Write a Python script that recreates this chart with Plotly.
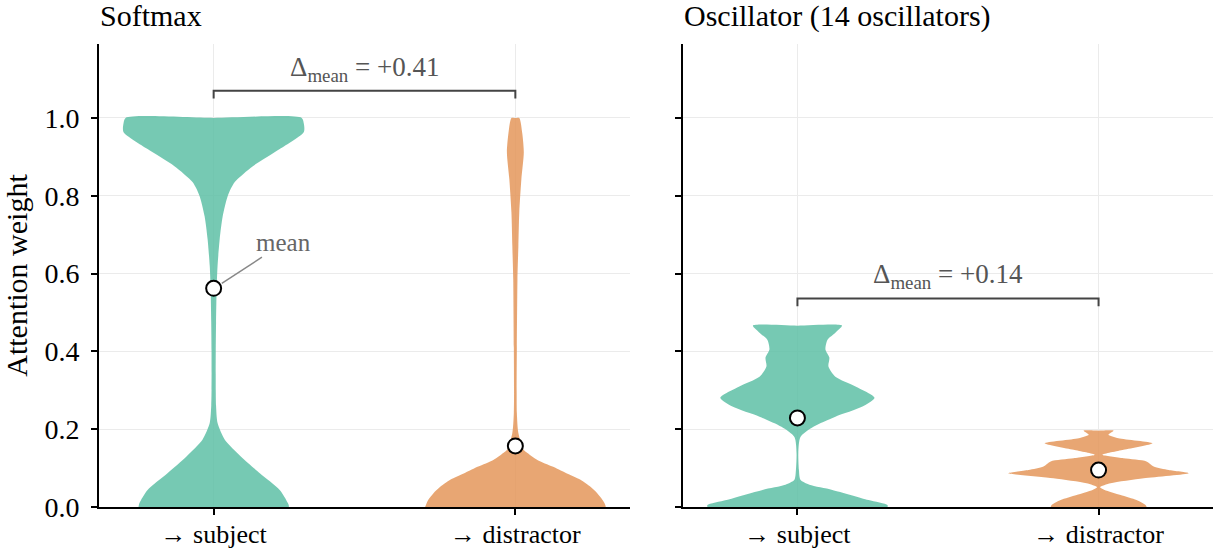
import plotly.graph_objects as go

# ---------------- data ----------------
categories = ["→ subject", "→ distractor"]
cat_pos = [0, 1]
panel_titles = ["Softmax", "Oscillator (14 oscillators)"]

# violin outlines: attention-weight levels and half-widths (x units)
soft_subj_y = [0, 0.01, 0.044, 0.087, 0.13, 0.173, 0.216, 0.26, 0.30, 0.40, 0.474,
               0.56, 0.62, 0.688, 0.747, 0.80, 0.835, 0.876, 0.92, 0.964, 0.985, 1.0]
soft_subj_w = [0.249, 0.246, 0.219, 0.153, 0.090, 0.037, 0.013, 0.008, 0.007, 0.007, 0.008,
               0.010, 0.013, 0.020, 0.030, 0.047, 0.070, 0.130, 0.219, 0.299, 0.299, 0.292]

soft_dist_y = [0, 0.018, 0.035, 0.052, 0.07, 0.088, 0.104, 0.121, 0.139, 0.147, 0.19,
               0.242, 0.41, 0.585, 0.67, 0.757, 0.843, 0.912, 0.96, 1.0]
soft_dist_w = [0.299, 0.289, 0.272, 0.249, 0.216, 0.166, 0.123, 0.073, 0.040, 0.027, 0.010,
               0.005, 0.005, 0.007, 0.010, 0.013, 0.020, 0.028, 0.023, 0.013]

osc_subj_y = [0, 0.005, 0.018, 0.044, 0.057, 0.07, 0.095, 0.139, 0.18, 0.206, 0.232,
              0.258, 0.281, 0.31, 0.335, 0.361, 0.384, 0.405, 0.43, 0.448, 0.466]
osc_subj_w = [0.299, 0.299, 0.236, 0.116, 0.040, 0.010, 0.005, 0.003, 0.010, 0.053, 0.126,
              0.216, 0.256, 0.193, 0.126, 0.103, 0.106, 0.093, 0.100, 0.126, 0.148]

osc_dist_y = [0, 0.005, 0.018, 0.031, 0.044, 0.051, 0.061, 0.074, 0.087, 0.095, 0.104,
              0.117, 0.125, 0.134, 0.147, 0.164, 0.177, 0.186, 0.196]
osc_dist_w = [0.159, 0.156, 0.126, 0.073, 0.020, 0.005, 0.040, 0.150, 0.299, 0.233, 0.183,
              0.159, 0.083, 0.013, 0.083, 0.179, 0.066, 0.033, 0.050]

softmax_means = [0.562, 0.157]
osc_means = [0.229, 0.095]
delta_labels = ["Δ<sub>mean</sub> = +0.41", "Δ<sub>mean</sub> = +0.14"]

# ---------------- style ----------------
GREEN = "rgba(94,192,166,0.85)"
ORANGE = "rgba(228,150,90,0.85)"
FONT = "Liberation Serif, Times New Roman, Times, serif"
GRID = "#ebebeb"

fig = go.Figure()

panels = [
    ("x", "y", [(soft_subj_y, soft_subj_w), (soft_dist_y, soft_dist_w)], softmax_means),
    ("x2", "y2", [(osc_subj_y, osc_subj_w), (osc_dist_y, osc_dist_w)], osc_means),
]
colors = [GREEN, ORANGE]

for pi, (xa, ya, violins, means) in enumerate(panels):
    for ci, (vy, vw) in enumerate(violins):
        c = cat_pos[ci]
        # outline: up the left side, across the flat top (through the centre), down the right
        xs = [c - w for w in vw] + [c] + [c + w for w in reversed(vw)] + [c]
        ys = list(vy) + [vy[-1]] + list(reversed(vy)) + [vy[0]]
        fig.add_trace(go.Scatter(x=xs, y=ys, xaxis=xa, yaxis=ya, mode="lines",
                                 fill="toself", fillcolor=colors[ci],
                                 line=dict(width=0, color=colors[ci], shape="spline",
                                           smoothing=0.7),
                                 hoverinfo="skip", showlegend=False))
    # bracket
    top = max(max(v[0]) for v in violins) + 0.07
    drop = 0.02
    fig.add_trace(go.Scatter(x=[cat_pos[0], cat_pos[0], cat_pos[1], cat_pos[1]],
                             y=[top - drop, top, top, top - drop],
                             xaxis=xa, yaxis=ya, mode="lines",
                             line=dict(color="#444444", width=2),
                             hoverinfo="skip", showlegend=False))
    fig.add_annotation(x=(cat_pos[0] + cat_pos[1]) / 2, y=top + 0.008, xref=xa, yref=ya,
                       text=delta_labels[pi], showarrow=False, yanchor="bottom",
                       font=dict(family=FONT, size=27, color="#555555"))
    # means
    fig.add_trace(go.Scatter(x=cat_pos, y=means, xaxis=xa, yaxis=ya, mode="markers",
                             marker=dict(size=15, color="white",
                                         line=dict(color="black", width=2)),
                             hoverinfo="skip", showlegend=False))

# "mean" callout on softmax subject
fig.add_trace(go.Scatter(x=[0.027, 0.16], y=[0.575, 0.642], xaxis="x", yaxis="y",
                         mode="lines", line=dict(color="#888888", width=1.5),
                         hoverinfo="skip", showlegend=False))
fig.add_annotation(x=0.135, y=0.64, xref="x", yref="y", text="mean", showarrow=False,
                   xanchor="left", yanchor="bottom",
                   font=dict(family=FONT, size=25, color="#666666"))

# panel titles
for xa, t in zip(["x", "x2"], panel_titles):
    fig.add_annotation(x=-0.002, xref=f"{xa} domain", y=1.005, yref="paper", text=t,
                       showarrow=False, xanchor="left", yanchor="top",
                       font=dict(family=FONT, size=30, color="black"))

axis_common = dict(showline=True, linecolor="black", linewidth=1.6,
                   ticks="outside", ticklen=6, tickwidth=1.6, tickcolor="black",
                   showgrid=True, gridcolor=GRID, gridwidth=1, zeroline=False,
                   automargin=False,
                   tickfont=dict(family=FONT, size=28, color="black"))
xtickfont = dict(family=FONT, size=26, color="black")

ydom = [45 / 552, 508 / 552]
fig.update_layout(
    width=1225, height=552, margin=dict(l=0, r=0, t=0, b=0),
    plot_bgcolor="white", paper_bgcolor="white",
    font=dict(family=FONT),
    xaxis=dict(domain=[99 / 1225, 630 / 1225], range=[-0.38, 1.38],
               tickvals=cat_pos, ticktext=categories, anchor="y", **axis_common),
    xaxis2=dict(domain=[683 / 1225, 1213 / 1225], range=[-0.38, 1.38],
                tickvals=cat_pos, ticktext=categories, anchor="y2", **axis_common),
    yaxis=dict(domain=ydom, range=[0, 1.19], tickvals=[0, 0.2, 0.4, 0.6, 0.8, 1.0],
               tickformat=".1f", anchor="x", ticklabelstandoff=6,
               title=dict(text="Attention weight", font=dict(family=FONT, size=30, color="black"),
                          standoff=14),
               **axis_common),
    yaxis2=dict(domain=ydom, range=[0, 1.19], tickvals=[0, 0.2, 0.4, 0.6, 0.8, 1.0],
                showticklabels=False, anchor="x2", **axis_common),
)
fig.update_xaxes(tickfont=xtickfont, ticklabelstandoff=-3)

fig.write_html("out.html")
